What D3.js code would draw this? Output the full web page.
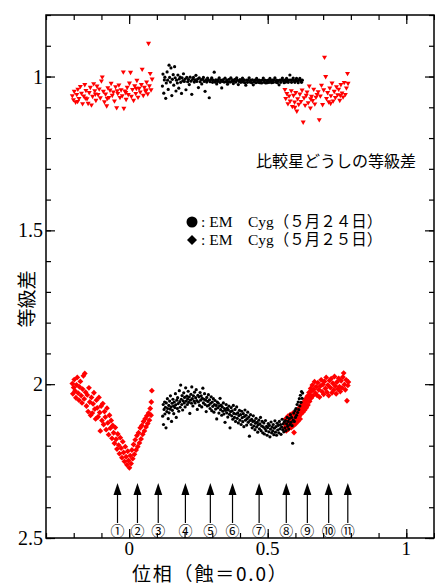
<!DOCTYPE html>
<html>
<head>
<meta charset="utf-8">
<title>EM Cyg light curve</title>
<script src="https://cdn.jsdelivr.net/npm/d3@7"></script>
<style>
body { margin: 0; background: #fff; }
text { font-family: "Liberation Serif", "Noto Sans CJK JP", serif; }
.jp { font-family: "Noto Sans CJK JP", sans-serif; }
</style>
</head>
<body>
<div id="chart"></div>
<script>
// comparison stars, 5/25 (red triangles)
var comp25 = [
 [-0.205,1.062],[-0.201,1.075],[-0.198,1.048],[-0.193,1.083],[-0.189,1.058],[-0.185,1.041],[-0.181,1.071],[-0.176,1.032],
 [-0.172,1.054],[-0.168,1.088],[-0.164,1.063],[-0.160,1.026],[-0.156,1.045],[-0.152,1.072],[-0.148,1.087],[-0.144,1.052],
 [-0.140,1.035],[-0.136,1.092],[-0.132,1.064],[-0.128,1.023],[-0.124,1.046],[-0.120,1.077],[-0.116,1.031],[-0.112,1.058],
 [-0.108,1.04],[-0.104,1.069],[-0.100,1.014],[-0.097,1.001],[-0.093,1.048],[-0.089,1.082],[-0.085,1.057],[-0.081,1.095],
 [-0.077,1.036],[-0.073,1.068],[-0.069,1.044],[-0.065,1.022],[-0.061,1.061],[-0.057,1.05],[-0.053,1.079],[-0.049,1.033],
 [-0.045,1.101],[-0.041,1.055],[-0.037,1.027],[-0.033,1.068],[-0.029,1.043],[-0.025,1.062],[-0.021,0.985],[-0.019,1.103],
 [-0.015,1.047],[-0.011,1.074],[-0.007,1.035],[-0.003,1.058],[0.001,1.021],[0.005,0.986],[0.008,1.064],[0.012,1.042],
 [0.016,1.077],[0.020,1.03],[0.024,1.055],[0.028,1.012],[0.032,1.067],[0.036,1.038],[0.040,1.05],[0.044,1.026],
 [0.047,0.976],[0.051,1.061],[0.055,1.035],[0.059,1.047],[0.063,1.018],[0.067,1.056],[0.070,0.892],[0.073,1.03],
 [0.076,0.99],[0.079,1.043],[0.083,1.008],[-0.186,1.081],[-0.158,1.07],[-0.122,1.057],[-0.079,1.071],[-0.043,1.046],
 [-0.012,1.052],[0.026,1.038],[0.062,1.044],
 [0.562,1.042],[0.565,1.071],[0.569,1.055],[0.573,1.088],[0.577,1.063],[0.581,1.079],[0.585,1.046],[0.589,1.097],
 [0.593,1.061],[0.597,1.083],[0.601,1.052],[0.605,1.112],[0.608,1.072],[0.612,1.09],[0.616,1.057],[0.620,1.081],
 [0.624,1.044],[0.628,1.148],[0.631,1.069],[0.635,1.093],[0.639,1.061],[0.642,1.05],[0.646,1.085],[0.650,1.031],
 [0.654,1.102],[0.658,1.064],[0.662,1.078],[0.666,1.041],[0.670,1.089],[0.674,1.067],[0.678,1.058],[0.682,1.049],
 [0.686,1.14],[0.690,1.063],[0.694,1.028],[0.698,1.091],[0.702,1.043],[0.705,0.937],[0.709,1.0],[0.712,1.071],
 [0.716,1.052],[0.720,1.082],[0.724,1.037],[0.728,1.062],[0.732,1.021],[0.736,1.079],[0.740,1.048],[0.744,1.068],
 [0.748,1.033],[0.752,1.059],[0.756,1.041],[0.760,1.077],[0.764,1.026],[0.768,1.053],[0.772,1.066],[0.776,1.019],
 [0.780,1.058],[0.784,1.037],[0.788,0.99],[0.790,1.022],[0.598,1.1],[0.655,1.072],[0.727,1.087],[0.762,1.061]
];

// comparison stars, 5/24 (black dots)
var comp24 = [
 [0.120,1.031],[0.122,0.992],[0.125,1.054],[0.127,1.011],[0.129,1.002],[0.132,1.071],[0.134,1.021],[0.137,0.985],
 [0.139,1.012],[0.141,1.042],[0.144,0.963],[0.146,1.003],[0.149,1.018],[0.151,0.972],[0.154,1.062],[0.156,1.009],
 [0.159,0.994],[0.161,1.028],[0.164,0.968],[0.166,1.004],[0.169,1.047],[0.171,1.012],[0.174,1.021],[0.176,0.995],
 [0.179,1.038],[0.181,1.008],[0.184,1.002],[0.186,1.019],[0.189,1.055],[0.191,1.004],[0.194,1.013],[0.196,0.991],
 [0.199,1.016],[0.202,1.008],[0.205,1.043],[0.208,1.003],[0.211,1.017],[0.214,1.01],[0.217,1.026],[0.220,1.002],
 [0.223,1.015],[0.226,1.058],[0.229,1.009],[0.232,1.003],[0.235,1.018],[0.238,1.011],[0.241,0.996],[0.244,1.016],
 [0.247,1.008],[0.250,1.036],[0.253,1.004],[0.256,1.017],[0.259,1.01],[0.262,1.024],[0.265,1.009],[0.268,1.003],
 [0.271,1.016],[0.274,1.048],[0.277,1.011],[0.280,1.018],[0.283,1.005],[0.286,1.012],[0.289,1.069],[0.292,1.017],
 [0.295,1.01],[0.298,1.004],[0.301,1.019],[0.304,1.012],[0.307,0.986],[0.310,1.018],[0.313,1.011],[0.316,1.024],
 [0.319,1.016],[0.322,1.01],[0.325,1.004],[0.328,1.019],[0.331,1.012],[0.334,1.037],[0.337,1.016],[0.340,1.01],
 [0.343,1.018],[0.346,1.005],[0.349,1.017],[0.352,1.011],[0.355,1.025],[0.358,1.017],[0.361,1.009],[0.364,1.018],
 [0.367,1.004],[0.370,1.016],[0.373,1.011],[0.376,1.023],[0.379,1.015],[0.382,1.009],[0.385,1.018],[0.388,1.004],
 [0.391,1.012],[0.394,1.026],[0.397,1.016],[0.400,1.01],[0.403,1.019],[0.406,1.012],[0.409,1.005],[0.412,1.018],
 [0.415,1.011],[0.418,1.02],[0.421,1.028],[0.424,1.012],[0.427,1.019],[0.430,1.011],[0.433,1.004],[0.436,1.018],
 [0.439,1.012],[0.442,1.02],[0.445,1.011],[0.448,1.027],[0.451,1.017],[0.454,1.012],[0.457,1.02],[0.460,1.006],
 [0.463,1.013],[0.466,1.019],[0.469,1.012],[0.472,1.02],[0.475,1.013],[0.478,1.021],[0.481,1.012],[0.484,1.005],
 [0.487,1.019],[0.490,1.012],[0.493,1.021],[0.496,1.013],[0.499,1.02],[0.502,1.012],[0.505,1.019],[0.508,1.006],
 [0.511,1.013],[0.514,1.02],[0.517,1.012],[0.520,1.019],[0.523,1.011],[0.526,1.004],[0.529,1.018],[0.532,1.012],
 [0.535,1.02],[0.538,1.013],[0.541,1.027],[0.544,1.012],[0.547,1.019],[0.550,1.011],[0.553,1.005],[0.556,1.013],
 [0.559,1.02],[0.562,1.012],[0.565,1.018],[0.568,1.006],[0.571,1.013],[0.574,1.019],[0.577,1.012],[0.580,0.995],
 [0.583,1.012],[0.586,1.019],[0.589,1.011],[0.592,1.005],[0.595,1.013],[0.598,1.019],[0.601,1.012],[0.604,1.006],
 [0.607,1.014],[0.610,1.02],[0.613,1.012],[0.616,1.006],[0.619,1.013],[0.622,1.019],[0.625,1.012]
];

// EM Cyg, 5/24 (black dots)
var em24 = [
 [0.121,2.104],[0.123,2.066],[0.124,2.131],[0.126,2.082],[0.128,2.058],[0.129,2.097],[0.131,2.075],[0.133,2.142],
 [0.134,2.061],[0.136,2.089],[0.138,2.047],[0.139,2.079],[0.141,2.112],[0.143,2.069],[0.144,2.093],[0.146,2.055],
 [0.148,2.081],[0.149,2.038],[0.151,2.074],[0.153,2.121],[0.155,2.062],[0.156,2.085],[0.158,2.049],[0.160,2.071],
 [0.161,2.096],[0.163,2.058],[0.165,2.076],[0.167,2.031],[0.168,2.067],[0.170,2.108],[0.172,2.052],[0.174,2.079],
 [0.175,2.044],[0.177,2.063],[0.179,2.088],[0.181,2.021],[0.183,2.057],[0.184,2.075],[0.186,2.003],[0.188,2.049],
 [0.190,2.066],[0.191,2.037],[0.193,2.084],[0.195,2.054],[0.197,2.028],[0.199,2.061],[0.200,2.043],[0.202,2.074],
 [0.204,2.012],[0.206,2.055],[0.208,2.039],[0.210,2.066],[0.211,2.048],[0.213,2.023],[0.215,2.059],[0.217,2.041],
 [0.219,2.095],[0.221,2.052],[0.223,2.033],[0.225,2.062],[0.226,2.009],[0.228,2.047],[0.230,2.071],[0.232,2.038],
 [0.234,2.055],[0.236,2.026],[0.238,2.061],[0.240,2.044],[0.242,2.018],[0.244,2.053],[0.246,2.082],[0.248,2.036],
 [0.250,2.058],[0.252,2.041],[0.254,2.069],[0.256,2.027],[0.258,2.052],[0.260,2.038],[0.262,2.074],[0.264,2.046],
 [0.266,2.013],[0.268,2.061],[0.270,2.049],[0.272,2.031],[0.274,2.066],[0.276,2.052],[0.278,2.089],[0.280,2.043],
 [0.282,2.071],[0.284,2.056],[0.286,2.034],[0.288,2.068],[0.290,2.051],[0.292,2.079],[0.294,2.062],[0.296,2.041],
 [0.298,2.086],[0.300,2.058],[0.302,2.072],[0.304,2.047],[0.306,2.091],[0.308,2.066],[0.310,2.053],[0.312,2.081],
 [0.314,2.069],[0.316,2.113],[0.318,2.058],[0.320,2.077],[0.322,2.062],[0.324,2.094],[0.326,2.071],[0.328,2.046],
 [0.330,2.083],[0.332,2.068],[0.334,2.101],[0.336,2.074],[0.338,2.088],[0.340,2.061],[0.342,2.097],[0.344,2.079],
 [0.346,2.124],[0.348,2.085],[0.350,2.066],[0.352,2.093],[0.354,2.078],[0.356,2.107],[0.358,2.084],[0.360,2.071],
 [0.362,2.098],[0.364,2.142],[0.366,2.089],[0.368,2.076],[0.370,2.103],[0.372,2.087],[0.374,2.114],[0.376,2.069],
 [0.378,2.095],[0.380,2.108],[0.382,2.082],[0.384,2.121],[0.386,2.097],[0.388,2.074],[0.390,2.111],[0.392,2.093],
 [0.394,2.126],[0.396,2.102],[0.398,2.085],[0.400,2.117],[0.402,2.099],[0.404,2.131],[0.406,2.088],[0.408,2.109],
 [0.410,2.122],[0.412,2.096],[0.414,2.138],[0.416,2.105],[0.418,2.084],[0.420,2.117],[0.422,2.101],[0.424,2.133],
 [0.426,2.112],[0.428,2.091],[0.430,2.124],[0.432,2.107],[0.434,2.169],[0.436,2.118],[0.438,2.099],[0.440,2.131],
 [0.442,2.114],[0.444,2.142],[0.446,2.121],[0.448,2.103],[0.450,2.136],[0.452,2.119],[0.454,2.148],[0.456,2.127],
 [0.458,2.111],[0.460,2.139],[0.462,2.124],[0.464,2.156],[0.466,2.132],[0.468,2.117],[0.470,2.145],[0.472,2.129],
 [0.474,2.108],[0.476,2.151],[0.478,2.136],[0.480,2.121],[0.482,2.158],[0.484,2.139],[0.486,2.126],[0.488,2.162],
 [0.490,2.144],[0.492,2.118],[0.494,2.151],[0.496,2.137],[0.498,2.166],[0.500,2.141],[0.502,2.128],[0.504,2.155],
 [0.506,2.134],[0.508,2.171],[0.510,2.146],[0.512,2.123],[0.514,2.158],[0.516,2.139],[0.518,2.152],[0.520,2.131],
 [0.522,2.164],[0.524,2.143],[0.526,2.119],[0.528,2.156],[0.530,2.138],[0.532,2.166],[0.534,2.127],[0.536,2.149],
 [0.538,2.134],[0.540,2.158],[0.542,2.121],[0.544,2.145],[0.546,2.131],[0.548,2.163],[0.550,2.139],[0.552,2.114],
 [0.554,2.148],[0.556,2.129],[0.558,2.155],[0.560,2.122],[0.562,2.142],[0.564,2.118],[0.566,2.151],[0.568,2.129],
 [0.570,2.108],[0.572,2.137],[0.574,2.121],[0.576,2.146],[0.578,2.112],[0.580,2.131],[0.582,2.099],[0.584,2.124],
 [0.586,2.108],[0.588,2.135],[0.590,2.192],[0.592,2.117],[0.594,2.094],[0.596,2.121],[0.598,2.086],[0.600,2.108],
 [0.602,2.079],[0.604,2.101],[0.606,2.066],[0.608,2.092],[0.610,2.058],[0.612,2.083],[0.614,2.047],[0.616,2.071],
 [0.618,2.036],[0.620,2.059],[0.622,2.024],[0.624,2.046],[0.626,2.029]
];

// EM Cyg, 5/25 (red diamonds)
var em25 = [
 [-0.205,1.998],[-0.203,2.031],[-0.200,2.011],[-0.198,1.985],[-0.195,2.022],[-0.192,2.044],[-0.190,2.002],[-0.187,1.978],
 [-0.184,2.029],[-0.181,2.052],[-0.179,2.009],[-0.176,1.991],[-0.173,2.037],[-0.170,2.061],[-0.168,2.016],[-0.165,1.973],
 [-0.162,2.048],[-0.160,1.965],[-0.157,2.026],[-0.154,2.071],[-0.151,2.035],[-0.148,2.089],[-0.145,2.012],[-0.142,2.058],
 [-0.139,2.101],[-0.136,2.043],[-0.133,2.094],[-0.130,2.064],[-0.127,2.028],[-0.124,2.081],[-0.121,2.113],[-0.118,2.052],
 [-0.115,2.077],[-0.112,2.106],[-0.109,2.043],[-0.106,2.092],[-0.104,2.152],[-0.101,2.071],[-0.098,2.118],[-0.095,2.063],
 [-0.092,2.131],[-0.089,2.089],[-0.086,2.107],[-0.083,2.148],[-0.080,2.078],[-0.077,2.126],[-0.074,2.164],[-0.071,2.101],
 [-0.068,2.143],[-0.065,2.118],[-0.062,2.176],[-0.059,2.134],[-0.056,2.158],[-0.053,2.192],[-0.050,2.141],[-0.047,2.179],
 [-0.044,2.211],[-0.041,2.162],[-0.038,2.198],[-0.035,2.226],[-0.032,2.174],[-0.029,2.208],[-0.026,2.239],[-0.023,2.187],
 [-0.020,2.222],[-0.017,2.251],[-0.014,2.203],[-0.011,2.236],[-0.008,2.262],[-0.005,2.218],[-0.002,2.248],[0.001,2.272],
 [0.004,2.232],[0.007,2.258],[0.010,2.214],[0.013,2.242],[0.016,2.196],[0.019,2.228],[0.022,2.181],[0.025,2.214],
 [0.028,2.167],[0.031,2.203],[0.034,2.158],[0.037,2.191],[0.040,2.142],[0.043,2.178],[0.046,2.134],[0.049,2.163],
 [0.052,2.121],[0.055,2.152],[0.058,2.112],[0.061,2.139],[0.064,2.103],[0.067,2.128],[0.070,2.094],[0.073,2.117],
 [0.076,2.079],[0.079,2.101],[0.080,2.058],[0.082,2.021],
 [0.561,2.128],[0.563,2.141],[0.565,2.112],[0.567,2.152],[0.569,2.123],[0.571,2.137],[0.573,2.104],[0.575,2.146],
 [0.577,2.118],[0.579,2.133],[0.581,2.099],[0.583,2.127],[0.585,2.141],[0.587,2.108],[0.589,2.122],[0.591,2.094],
 [0.593,2.135],[0.595,2.157],[0.597,2.116],[0.599,2.101],[0.601,2.129],[0.603,2.087],[0.605,2.112],[0.607,2.096],
 [0.609,2.121],[0.611,2.079],[0.613,2.104],[0.615,2.088],[0.617,2.113],[0.619,2.071],[0.621,2.096],[0.623,2.082],
 [0.625,2.064],[0.627,2.091],[0.629,2.073],[0.631,2.057],[0.633,2.084],[0.635,2.066],[0.637,2.048],[0.639,2.077],
 [0.641,2.055],[0.643,2.039],[0.645,2.068],[0.647,2.043],[0.649,2.027],[0.651,2.056],[0.653,2.034],[0.655,2.014],
 [0.657,2.045],[0.659,2.022],[0.661,2.003],[0.663,2.038],[0.666,2.017],[0.669,1.992],[0.672,2.029],[0.675,2.008],
 [0.678,2.036],[0.681,1.995],[0.684,2.018],[0.687,2.042],[0.690,2.006],[0.693,1.986],[0.696,2.024],[0.699,2.001],
 [0.702,2.033],[0.705,1.991],[0.708,2.014],[0.711,1.978],[0.714,2.026],[0.717,2.003],[0.720,2.037],[0.723,1.988],
 [0.726,2.011],[0.729,1.982],[0.732,2.028],[0.735,1.997],[0.738,2.019],[0.741,1.975],[0.744,2.006],[0.747,2.031],
 [0.750,1.993],[0.753,2.016],[0.756,1.981],[0.759,2.008],[0.762,2.024],[0.765,1.989],[0.768,2.012],[0.771,1.977],
 [0.774,1.964],[0.777,2.001],[0.780,2.018],[0.783,1.986],[0.786,2.054],[0.789,2.004],[0.791,1.993]
];

var arrowPhases = [-0.042, 0.03, 0.105, 0.203, 0.293, 0.373, 0.469, 0.567, 0.643, 0.72, 0.789];
var arrowLabels = ["①","②","③","④","⑤","⑥","⑦","⑧","⑨","⑩","⑪"];
var xMajor = [0, 0.5, 1];
var yMajor = [1, 1.5, 2, 2.5];
var legendLabels = [": EM\u3000Cyg（５月２４日）", ": EM\u3000Cyg（５月２５日）"];

var width = 435, height = 587;
var margin = {top: 15, right: 1, bottom: 49, left: 46};

var svg = d3.select("#chart").append("svg")
  .attr("width", width)
  .attr("height", height);

var x = d3.scaleLinear().domain([-0.3, 1.1]).range([margin.left, width - margin.right]);
var y = d3.scaleLinear().domain([0.8, 2.5]).range([margin.top, height - margin.bottom]);

var xMinor = d3.range(-3, 12).map(function(d) { return d / 10; });
var yMinor = d3.range(8, 26).map(function(d) { return d / 10; });

// ticks on all four sides, pointing inward
function ticks(axisFn, scale, vals, size, tr) {
  svg.append("g")
    .attr("transform", tr)
    .call(axisFn(scale).tickValues(vals).tickSize(size).tickFormat(""))
    .call(function(g) { g.select(".domain").remove(); g.selectAll("line").attr("stroke", "#000").attr("stroke-width", 1.2); });
}
var x0 = margin.left, x1 = width - margin.right, y0 = margin.top, y1 = height - margin.bottom;
ticks(d3.axisBottom, x, xMinor, -5, "translate(0," + y1 + ")");
ticks(d3.axisBottom, x, xMajor, -9, "translate(0," + y1 + ")");
ticks(d3.axisTop, x, xMinor, -5, "translate(0," + y0 + ")");
ticks(d3.axisTop, x, xMajor, -9, "translate(0," + y0 + ")");
ticks(d3.axisLeft, y, yMinor, -5, "translate(" + x0 + ",0)");
ticks(d3.axisLeft, y, yMajor, -9, "translate(" + x0 + ",0)");
ticks(d3.axisRight, y, yMinor, -5, "translate(" + x1 + ",0)");
ticks(d3.axisRight, y, yMajor, -9, "translate(" + x1 + ",0)");

svg.append("rect")
  .attr("x", x0).attr("y", y0)
  .attr("width", x1 - x0).attr("height", y1 - y0)
  .attr("fill", "none").attr("stroke", "#000").attr("stroke-width", 1.5);

// tick labels
svg.selectAll(".xl").data(xMajor).enter().append("text")
  .attr("x", function(d) { return x(d); })
  .attr("y", y1 + 17)
  .attr("text-anchor", "middle")
  .style("font-size", "19px")
  .text(function(d) { return d; });

svg.selectAll(".yl").data(yMajor).enter().append("text")
  .attr("x", x0 - 3)
  .attr("y", function(d) { return y(d) + 7; })
  .attr("text-anchor", "end")
  .style("font-size", "20px")
  .text(function(d) { return d; });

// axis titles
svg.append("text")
  .attr("class", "jp")
  .attr("x", 132).attr("y", 581)
  .style("font-size", "19px")
  .style("letter-spacing", "1.8px")
  .text("位相（蝕＝0.0）");

svg.append("text")
  .attr("class", "jp")
  .attr("transform", "translate(34,299) rotate(-90)")
  .attr("text-anchor", "middle")
  .style("font-size", "19px")
  .text("等級差");

// data points
var tri = d3.symbol().type(d3.symbolTriangle).size(11);
var dia = d3.symbol().type(d3.symbolSquare).size(17);

svg.append("g").selectAll("path").data(comp25).enter().append("path")
  .attr("d", tri)
  .attr("transform", function(d) { return "translate(" + x(d[0]) + "," + y(d[1]) + ") rotate(180)"; })
  .attr("fill", "#ff0000");

svg.append("g").selectAll("circle").data(comp24).enter().append("circle")
  .attr("cx", function(d) { return x(d[0]); })
  .attr("cy", function(d) { return y(d[1]); })
  .attr("r", 1.6)
  .attr("fill", "#000");

svg.append("g").selectAll("path").data(em25).enter().append("path")
  .attr("d", dia)
  .attr("transform", function(d) { return "translate(" + x(d[0]) + "," + y(d[1]) + ") rotate(45)"; })
  .attr("fill", "#ff0000");

svg.append("g").selectAll("circle").data(em24).enter().append("circle")
  .attr("cx", function(d) { return x(d[0]); })
  .attr("cy", function(d) { return y(d[1]); })
  .attr("r", 1.6)
  .attr("fill", "#000");

// arrows marking the frames
var headH = 12, headW = 8;
var ar = svg.append("g").selectAll("g").data(arrowPhases).enter().append("g")
  .attr("transform", function(d) { return "translate(" + x(d) + ",0)"; });
ar.append("line")
  .attr("x1", 0).attr("x2", 0)
  .attr("y1", 490).attr("y2", 523)
  .attr("stroke", "#000").attr("stroke-width", 1.2);
ar.append("path")
  .attr("d", "M0,483 L" + (headW / 2) + "," + (483 + headH) + " L" + (-headW / 2) + "," + (483 + headH) + "Z")
  .attr("fill", "#000");
ar.append("text")
  .attr("class", "jp")
  .attr("y", 536)
  .attr("text-anchor", "middle")
  .style("font-size", "14px")
  .attr("fill", "#000")
  .text(function(d, i) { return arrowLabels[i]; });

// notes
svg.append("text")
  .attr("class", "jp")
  .attr("x", 416).attr("y", 167)
  .attr("text-anchor", "end")
  .style("font-size", "16px")
  .text("比較星どうしの等級差");

svg.append("circle").attr("cx", 192).attr("cy", 222).attr("r", 5.5).attr("fill", "#000");
svg.append("path")
  .attr("d", d3.symbol().type(d3.symbolSquare).size(50))
  .attr("transform", "translate(192,240) rotate(45)")
  .attr("fill", "#000");
svg.selectAll(".lg").data(legendLabels).enter().append("text")
  .attr("x", 201)
  .attr("y", function(d, i) { return 227 + i * 18; })
  .style("font-size", "15.5px")
  .text(function(d) { return d; });
</script>
</body>
</html>
